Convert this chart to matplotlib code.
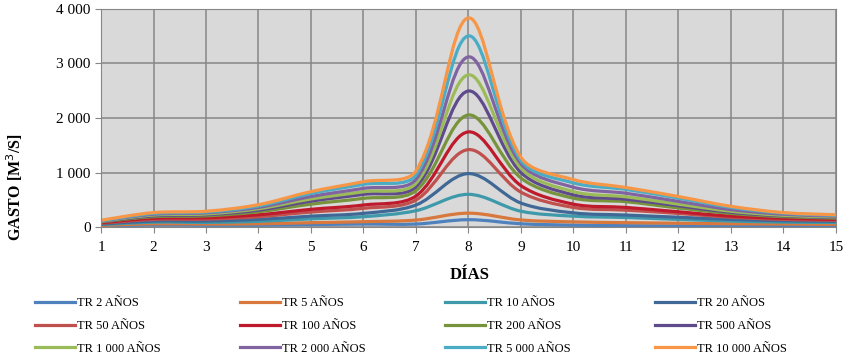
import numpy as np
import matplotlib.pyplot as plt
from matplotlib.path import Path
from matplotlib.patches import PathPatch
from matplotlib.lines import Line2D
from matplotlib.ticker import FuncFormatter

plt.rcParams['font.family'] = ['Liberation Serif', 'DejaVu Serif']

dias = [1, 2, 3, 4, 5, 6, 7, 8, 9, 10, 11, 12, 13, 14, 15]

labels = ['TR 2 AÑOS', 'TR 5 AÑOS', 'TR 10 AÑOS', 'TR 20 AÑOS',
          'TR 50 AÑOS', 'TR 100 AÑOS', 'TR 200 AÑOS', 'TR 500 AÑOS',
          'TR 1 000 AÑOS', 'TR 2 000 AÑOS', 'TR 5 000 AÑOS', 'TR 10 000 AÑOS']

colors = ['#4F81BD', '#D8783C', '#3E9AAA', '#3F6896',
          '#C0504D', '#BE1A2C', '#77933C', '#5F4B8B',
          '#9BBB59', '#8064A2', '#4BACC6', '#F79646']

# gasto diario (m3/s) por periodo de retorno
tr2 = [20, 40, 35, 35, 45, 55, 55, 135, 60, 35, 25, 20, 18, 15, 15]
tr5 = [30, 60, 55, 60, 80, 98, 128, 255, 130, 95, 80, 70, 60, 55, 50]
tr10 = [45, 90, 85, 105, 150, 190, 300, 600, 290, 200, 175, 140, 110, 90, 85]
tr20 = [55, 110, 110, 140, 200, 251, 404, 980, 440, 260, 220, 180, 140, 115, 105]
tr50 = [70, 140, 145, 190, 275, 343, 495, 1420, 640, 360, 310, 250, 180, 140, 125]
tr100 = [80, 160, 170, 225, 325, 404, 569, 1745, 760, 420, 360, 280, 200, 160, 140]
tr200 = [95, 190, 205, 280, 420, 526, 667, 2055, 900, 530, 465, 350, 250, 190, 165]
tr500 = [100, 205, 225, 310, 475, 599, 740, 2495, 1000, 590, 510, 390, 270, 205, 175]
tr1000 = [105, 220, 240, 335, 515, 648, 801, 2790, 1080, 650, 555, 420, 290, 215, 185]
tr2000 = [110, 235, 260, 360, 560, 709, 874, 3120, 1160, 730, 620, 470, 320, 235, 200]
tr5000 = [115, 250, 275, 385, 615, 783, 954, 3505, 1220, 810, 690, 530, 360, 255, 215]
tr10000 = [125, 265, 290, 410, 650, 832, 1030, 3835, 1280, 870, 725, 560, 380, 265, 225]

series = [tr2, tr5, tr10, tr20, tr50, tr100, tr200, tr500, tr1000, tr2000, tr5000, tr10000]


def smooth_path(ax, x, y):
    # linea suavizada tipo Excel: bezier con brazos segun la longitud
    # de cada tramo en pantalla
    tr = ax.transData
    p = tr.transform(np.column_stack([x, y]).astype(float))
    n = len(p)
    d = np.hypot(*np.diff(p, axis=0).T)
    verts = [p[0]]
    codes = [Path.MOVETO]
    for i in range(n - 1):
        p0 = p[max(i - 1, 0)]
        p1 = p[i]
        p2 = p[i + 1]
        p3 = p[min(i + 2, n - 1)]
        da = d[i - 1] if i > 0 else d[i]
        db = d[i]
        dc = d[i + 1] if i + 2 < n else d[i]
        c1 = p1 + (p2 - p0) / 6 * (2 * db / (da + db))
        c2 = p2 - (p3 - p1) / 6 * (2 * db / (db + dc))
        verts += [c1, c2, p2]
        codes += [Path.CURVE4] * 3
    verts = tr.inverted().transform(np.array(verts))
    return Path(verts, codes)


fig = plt.figure(figsize=(8.46, 3.57), dpi=100)
ax = fig.add_axes([0.1194, 0.364, 0.8686, 0.611])
ax.set_facecolor('#D9D9D9')
ax.set_xlim(1, 15)
ax.set_ylim(0, 4000)

for s, c in zip(series, colors):
    ax.add_patch(PathPatch(smooth_path(ax, dias, s), fill=False, edgecolor=c,
                           lw=2.3, joinstyle='round', capstyle='butt'))

ax.set_xticks(range(1, 16))
ax.set_yticks([0, 1000, 2000, 3000, 4000])
ax.yaxis.set_major_formatter(FuncFormatter(lambda v, p: f'{int(v):,}'.replace(',', ' ')))
ax.grid(True, color='#868686', lw=1.1)
ax.set_axisbelow(True)
for sp in ax.spines.values():
    sp.set_color('#868686')
ax.tick_params(labelsize=11, color='#868686', length=4)
ax.tick_params(axis='x', pad=6)

fig.text(470 / 846, 1 - 275 / 357, 'DÍAS', fontsize=12, fontweight='bold',
         ha='center', va='center')
fig.text(15 / 846, 1 - 187 / 357, 'GASTO [M$^3$/S]', fontsize=11.5,
         fontweight='bold', rotation=90, ha='center', va='center')

# leyenda: una columna de 3 filas por cada posicion
handles = [Line2D([], [], color=c, lw=2.3) for c in colors]
col_x = [35, 240, 445, 655]
for j, cx in enumerate(col_x):
    idx = [j, j + 4, j + 8]
    fig.legend([handles[i] for i in idx], [labels[i] for i in idx],
               loc='upper left', bbox_to_anchor=(cx / 846, 1 - 297.5 / 357),
               frameon=False, fontsize=9, handlelength=3.2, handletextpad=0.15,
               labelspacing=0.84, borderpad=0, borderaxespad=0)

fig.savefig('out.png', dpi=100)
